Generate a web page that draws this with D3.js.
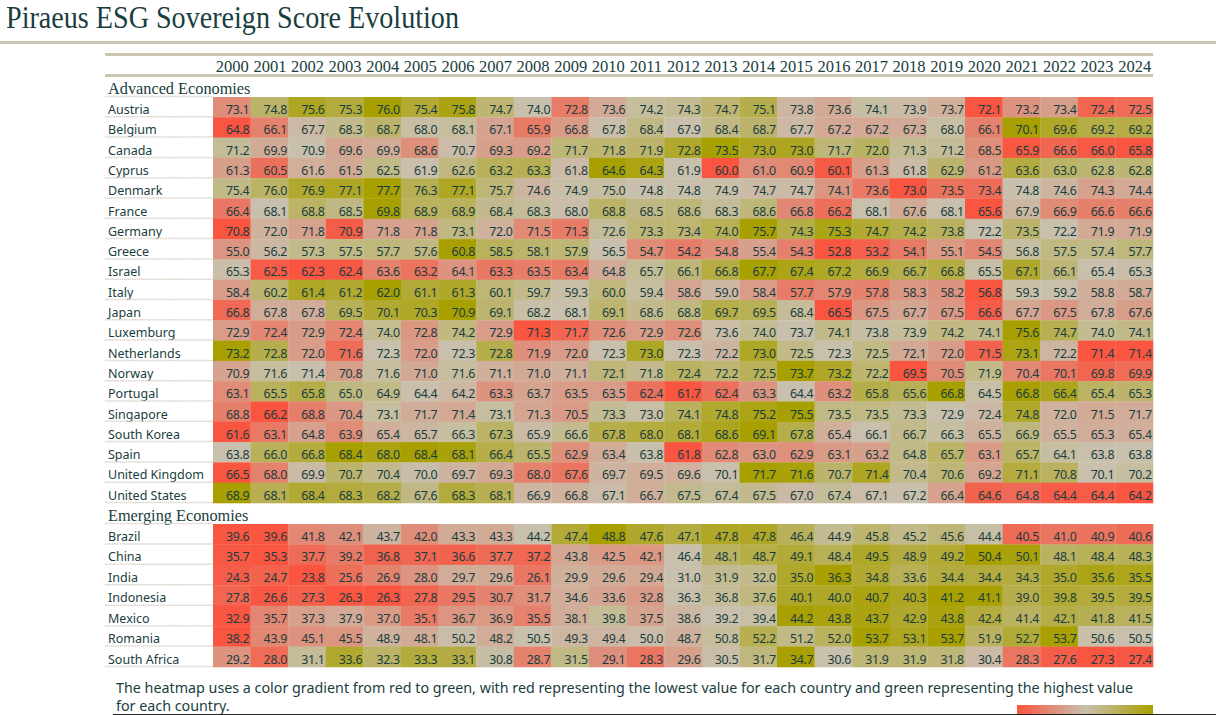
<!DOCTYPE html>
<html>
<head>
<meta charset="utf-8">
<script src="https://cdn.jsdelivr.net/npm/d3@7"></script>
<style>
html, body { margin: 0; padding: 0; background: #fff; overflow: hidden; }
svg { display: block; }
</style>
</head>
<body>
<svg id="svg_canvas"></svg>
<script>
var svg_w = 1216;
var svg_h = 715;

var years = d3.range(2000, 2025);

var advanced = ["Austria", "Belgium", "Canada", "Cyprus", "Denmark", "France", "Germany", "Greece", "Israel", "Italy", "Japan", "Luxemburg", "Netherlands", "Norway", "Portugal", "Singapore", "South Korea", "Spain", "United Kingdom", "United States"];
var emerging = ["Brazil", "China", "India", "Indonesia", "Mexico", "Romania", "South Africa"];

var austria = [73.1, 74.8, 75.6, 75.3, 76.0, 75.4, 75.8, 74.7, 74.0, 72.8, 73.6, 74.2, 74.3, 74.7, 75.1, 73.8, 73.6, 74.1, 73.9, 73.7, 72.1, 73.2, 73.4, 72.4, 72.5];
var belgium = [64.8, 66.1, 67.7, 68.3, 68.7, 68.0, 68.1, 67.1, 65.9, 66.8, 67.8, 68.4, 67.9, 68.4, 68.7, 67.7, 67.2, 67.2, 67.3, 68.0, 66.1, 70.1, 69.6, 69.2, 69.2];
var canada = [71.2, 69.9, 70.9, 69.6, 69.9, 68.6, 70.7, 69.3, 69.2, 71.7, 71.8, 71.9, 72.8, 73.5, 73.0, 73.0, 71.7, 72.0, 71.3, 71.2, 68.5, 65.9, 66.6, 66.0, 65.8];
var cyprus = [61.3, 60.5, 61.6, 61.5, 62.5, 61.9, 62.6, 63.2, 63.3, 61.8, 64.6, 64.3, 61.9, 60.0, 61.0, 60.9, 60.1, 61.3, 61.8, 62.9, 61.2, 63.6, 63.0, 62.8, 62.8];
var denmark = [75.4, 76.0, 76.9, 77.1, 77.7, 76.3, 77.1, 75.7, 74.6, 74.9, 75.0, 74.8, 74.8, 74.9, 74.7, 74.7, 74.1, 73.6, 73.0, 73.5, 73.4, 74.8, 74.6, 74.3, 74.4];
var france = [66.4, 68.1, 68.8, 68.5, 69.8, 68.9, 68.9, 68.4, 68.3, 68.0, 68.8, 68.5, 68.6, 68.3, 68.6, 66.8, 66.2, 68.1, 67.6, 68.1, 65.6, 67.9, 66.9, 66.6, 66.6];
var germany = [70.8, 72.0, 71.8, 70.9, 71.8, 71.8, 73.1, 72.0, 71.5, 71.3, 72.6, 73.3, 73.4, 74.0, 75.7, 74.3, 75.3, 74.7, 74.2, 73.8, 72.2, 73.5, 72.2, 71.9, 71.9];
var greece = [55.0, 56.2, 57.3, 57.5, 57.7, 57.6, 60.8, 58.5, 58.1, 57.9, 56.5, 54.7, 54.2, 54.8, 55.4, 54.3, 52.8, 53.2, 54.1, 55.1, 54.5, 56.8, 57.5, 57.4, 57.7];
var israel = [65.3, 62.5, 62.3, 62.4, 63.6, 63.2, 64.1, 63.3, 63.5, 63.4, 64.8, 65.7, 66.1, 66.8, 67.7, 67.4, 67.2, 66.9, 66.7, 66.8, 65.5, 67.1, 66.1, 65.4, 65.3];
var italy = [58.4, 60.2, 61.4, 61.2, 62.0, 61.1, 61.3, 60.1, 59.7, 59.3, 60.0, 59.4, 58.6, 59.0, 58.4, 57.7, 57.9, 57.8, 58.3, 58.2, 56.8, 59.3, 59.2, 58.8, 58.7];
var japan = [66.8, 67.8, 67.8, 69.5, 70.1, 70.3, 70.9, 69.1, 68.2, 68.1, 69.1, 68.6, 68.8, 69.7, 69.5, 68.4, 66.5, 67.5, 67.7, 67.5, 66.6, 67.7, 67.5, 67.8, 67.6];
var luxemburg = [72.9, 72.4, 72.9, 72.4, 74.0, 72.8, 74.2, 72.9, 71.3, 71.7, 72.6, 72.9, 72.6, 73.6, 74.0, 73.7, 74.1, 73.8, 73.9, 74.2, 74.1, 75.6, 74.7, 74.0, 74.1];
var netherlands = [73.2, 72.8, 72.0, 71.6, 72.3, 72.0, 72.3, 72.8, 71.9, 72.0, 72.3, 73.0, 72.3, 72.2, 73.0, 72.5, 72.3, 72.5, 72.1, 72.0, 71.5, 73.1, 72.2, 71.4, 71.4];
var norway = [70.9, 71.6, 71.4, 70.8, 71.6, 71.0, 71.6, 71.1, 71.0, 71.1, 72.1, 71.8, 72.4, 72.2, 72.5, 73.7, 73.2, 72.2, 69.5, 70.5, 71.9, 70.4, 70.1, 69.8, 69.9];
var portugal = [63.1, 65.5, 65.8, 65.0, 64.9, 64.4, 64.2, 63.3, 63.7, 63.5, 63.5, 62.4, 61.7, 62.4, 63.3, 64.4, 63.2, 65.8, 65.6, 66.8, 64.5, 66.8, 66.4, 65.4, 65.3];
var singapore = [68.8, 66.2, 68.8, 70.4, 73.1, 71.7, 71.4, 73.1, 71.3, 70.5, 73.3, 73.0, 74.1, 74.8, 75.2, 75.5, 73.5, 73.5, 73.3, 72.9, 72.4, 74.8, 72.0, 71.5, 71.7];
var south_korea = [61.6, 63.1, 64.8, 63.9, 65.4, 65.7, 66.3, 67.3, 65.9, 66.6, 67.8, 68.0, 68.1, 68.6, 69.1, 67.8, 65.4, 66.1, 66.7, 66.3, 65.5, 66.9, 65.5, 65.3, 65.4];
var spain = [63.8, 66.0, 66.8, 68.4, 68.0, 68.4, 68.1, 66.4, 65.5, 62.9, 63.4, 63.8, 61.8, 62.8, 63.0, 62.9, 63.1, 63.2, 64.8, 65.7, 63.1, 65.7, 64.1, 63.8, 63.8];
var united_kingdom = [66.5, 68.0, 69.9, 70.7, 70.4, 70.0, 69.7, 69.3, 68.0, 67.6, 69.7, 69.5, 69.6, 70.1, 71.7, 71.6, 70.7, 71.4, 70.4, 70.6, 69.2, 71.1, 70.8, 70.1, 70.2];
var united_states = [68.9, 68.1, 68.4, 68.3, 68.2, 67.6, 68.3, 68.1, 66.9, 66.8, 67.1, 66.7, 67.5, 67.4, 67.5, 67.0, 67.4, 67.1, 67.2, 66.4, 64.6, 64.8, 64.4, 64.4, 64.2];
var brazil = [39.6, 39.6, 41.8, 42.1, 43.7, 42.0, 43.3, 43.3, 44.2, 47.4, 48.8, 47.6, 47.1, 47.8, 47.8, 46.4, 44.9, 45.8, 45.2, 45.6, 44.4, 40.5, 41.0, 40.9, 40.6];
var china = [35.7, 35.3, 37.7, 39.2, 36.8, 37.1, 36.6, 37.7, 37.2, 43.8, 42.5, 42.1, 46.4, 48.1, 48.7, 49.1, 48.4, 49.5, 48.9, 49.2, 50.4, 50.1, 48.1, 48.4, 48.3];
var india = [24.3, 24.7, 23.8, 25.6, 26.9, 28.0, 29.7, 29.6, 26.1, 29.9, 29.6, 29.4, 31.0, 31.9, 32.0, 35.0, 36.3, 34.8, 33.6, 34.4, 34.4, 34.3, 35.0, 35.6, 35.5];
var indonesia = [27.8, 26.6, 27.3, 26.3, 26.3, 27.8, 29.5, 30.7, 31.7, 34.6, 33.6, 32.8, 36.3, 36.8, 37.6, 40.1, 40.0, 40.7, 40.3, 41.2, 41.1, 39.0, 39.8, 39.5, 39.5];
var mexico = [32.9, 35.7, 37.3, 37.9, 37.0, 35.1, 36.7, 36.9, 35.5, 38.1, 39.8, 37.5, 38.6, 39.2, 39.4, 44.2, 43.8, 43.7, 42.9, 43.8, 42.4, 41.4, 42.1, 41.8, 41.5];
var romania = [38.2, 43.9, 45.1, 45.5, 48.9, 48.1, 50.2, 48.2, 50.5, 49.3, 49.4, 50.0, 48.7, 50.8, 52.2, 51.2, 52.0, 53.7, 53.1, 53.7, 51.9, 52.7, 53.7, 50.6, 50.5];
var south_africa = [29.2, 28.0, 31.1, 33.6, 32.3, 33.3, 33.1, 30.8, 28.7, 31.5, 29.1, 28.3, 29.6, 30.5, 31.7, 34.7, 30.6, 31.9, 31.9, 31.8, 30.4, 28.3, 27.6, 27.3, 27.4];

var advanced_values = [austria, belgium, canada, cyprus, denmark, france, germany, greece, israel, italy, japan, luxemburg, netherlands, norway, portugal, singapore, south_korea, spain, united_kingdom, united_states];
var emerging_values = [brazil, china, india, indonesia, mexico, romania, south_africa];

var col_low = "#f95540";
var col_mid = "#c8c0ac";
var col_high = "#a8a000";
var col_text = "#1a3d40";
var col_rule = "#cbc5b3";
var font_serif = "'Liberation Serif', serif";
var font_sans = "'Noto Sans', sans-serif";

var svg = d3.select("#svg_canvas").attr("width", svg_w).attr("height", svg_h);

var x = d3.scaleBand().domain(years).range([213, 1153]);

// top rules
svg.append("rect").attr("x", 0).attr("y", 41).attr("width", svg_w).attr("height", 3).attr("fill", col_rule);
svg.append("rect").attr("x", 105).attr("y", 53).attr("width", 1048).attr("height", 3).attr("fill", col_rule);
svg.append("rect").attr("x", 105).attr("y", 74).attr("width", 1048).attr("height", 3).attr("fill", col_rule);

svg.append("text").attr("x", 6).attr("y", 28)
	.attr("font-family", font_serif).attr("font-size", 31).attr("fill", col_text)
	.attr("textLength", 453).attr("lengthAdjust", "spacingAndGlyphs")
	.text("Piraeus ESG Sovereign Score Evolution");

svg.selectAll(".year").data(years).enter().append("text")
	.attr("class", "year")
	.attr("x", function (d) { return x(d) + x.bandwidth() / 2 + 0.5; })
	.attr("y", 72)
	.attr("text-anchor", "middle")
	.attr("font-family", font_serif).attr("font-size", 16.5).attr("fill", col_text)
	.text(function (d) { return d; });

function drawGroup(title, title_y, names, values, top, bottom) {
	var y = d3.scaleBand().domain(names).range([top, bottom]);

	svg.append("text").attr("x", 108).attr("y", title_y)
		.attr("font-family", font_serif).attr("font-size", 16.3).attr("fill", col_text)
		.text(title);
	svg.append("line")
		.attr("x1", 105).attr("x2", 213)
		.attr("y1", top - 0.5).attr("y2", top - 0.5)
		.attr("stroke", "#dbd6ca").attr("stroke-width", 1.5).attr("stroke-dasharray", "1.5 0.6");

	names.forEach(function (name, i) {
		var row = values[i];
		var color = d3.scaleLinear()
			.domain([d3.min(row), d3.median(row), d3.max(row)])
			.range([col_low, col_mid, col_high]);
		var g = svg.append("g");

		g.append("text").attr("x", 108).attr("y", y(name) + 17)
			.attr("font-family", font_sans).attr("font-size", 12.5).attr("fill", col_text)
			.text(name);
		g.append("line")
			.attr("x1", 105).attr("x2", 213)
			.attr("y1", y(name) + y.bandwidth() - 0.5).attr("y2", y(name) + y.bandwidth() - 0.5)
			.attr("stroke", "#dbd6ca").attr("stroke-width", 1.5).attr("stroke-dasharray", "1.5 0.6");

		g.selectAll("rect").data(row).enter().append("rect")
			.attr("x", function (d, j) { return x(years[j]); })
			.attr("y", y(name))
			.attr("width", x.bandwidth() + 0.3)
			.attr("height", y.bandwidth() + 0.3)
			.attr("fill", function (d) { return color(d); });

		g.selectAll(".val").data(row).enter().append("text")
			.attr("class", "val")
			.attr("x", function (d, j) { return x(years[j]) + x.bandwidth() - 1.2; })
			.attr("y", y(name) + 17)
			.attr("text-anchor", "end")
			.attr("font-family", font_sans).attr("font-size", 12.4).attr("letter-spacing", -0.3).attr("fill", col_text)
			.text(function (d) { return d.toFixed(1); });
	});
}

drawGroup("Advanced Economies", 94, advanced, advanced_values, 97, 503);
drawGroup("Emerging Economies", 521, emerging, emerging_values, 524, 667);

svg.append("text").attr("x", 116).attr("y", 693)
	.attr("font-family", font_sans).attr("font-size", 14.3).attr("fill", col_text)
	.text("The heatmap uses a color gradient from red to green, with red representing the lowest value for each country and green representing the highest value");
svg.append("text").attr("x", 116).attr("y", 711)
	.attr("font-family", font_sans).attr("font-size", 14.3).attr("fill", col_text)
	.text("for each country.");

// legend gradient
var grad = svg.append("defs").append("linearGradient").attr("id", "legend_grad");
grad.selectAll("stop").data([col_low, col_mid, col_high]).enter().append("stop")
	.attr("offset", function (d, i) { return i * 50 + "%"; })
	.attr("stop-color", function (d) { return d; });
svg.append("rect").attr("x", 1017).attr("y", 705).attr("width", 136).attr("height", 9).attr("fill", "url(#legend_grad)");

svg.append("line").attr("x1", 113).attr("x2", svg_w).attr("y1", 714.5).attr("y2", 714.5)
	.attr("stroke", "#222").attr("stroke-width", 1);
</script>
</body>
</html>
